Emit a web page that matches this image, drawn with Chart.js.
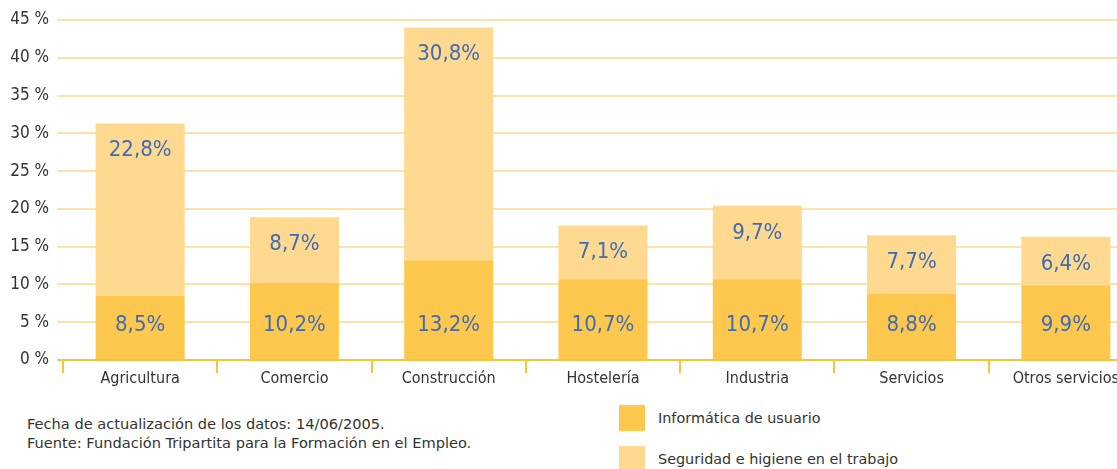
<!DOCTYPE html>
<html>
<head>
<meta charset="utf-8">
<script src="https://cdn.jsdelivr.net/npm/chart.js@4/dist/chart.umd.min.js"></script>
<style>
  html, body { margin: 0; padding: 0; background: #fff; overflow: hidden; }
  body { width: 1117px; height: 469px; position: relative; }
  #wrap { position: absolute; left: 0; top: 0; width: 1143px; height: 400px; }
  .note { position: absolute; left: 27px; top: 414px; font: 14.6px "DejaVu Sans", sans-serif; color: #333; line-height: 19px; }
  .leg { position: absolute; left: 619px; font: 14.4px "DejaVu Sans", sans-serif; color: #333; display: flex; align-items: center; }
  .leg span.box { width: 26px; height: 26px; display: inline-block; margin-right: 13px; }
</style>
</head>
<body>
<div id="wrap"><canvas id="grafico" width="1143" height="400"></canvas></div>
<div class="note">Fecha de actualización de los datos: 14/06/2005.<br>Fuente: Fundación Tripartita para la Formación en el Empleo.</div>
<div id="leyenda"></div>
<script>
const categorias = ['Agricultura', 'Comercio', 'Construcción', 'Hostelería', 'Industria', 'Servicios', 'Otros servicios'];
const informatica = [8.5, 10.2, 13.2, 10.7, 10.7, 8.8, 9.9];
const seguridad = [22.8, 8.7, 30.8, 7.1, 9.7, 7.7, 6.4];
const nombres = ['Informática de usuario', 'Seguridad e higiene en el trabajo'];
const colores = ['#FEC84E', '#FED98F'];

const fmt = v => v.toFixed(1).replace('.', ',') + '%';

// etiquetas dentro de las barras
const etiquetas = {
  id: 'etiquetas',
  afterDatasetsDraw(chart) {
    const ctx = chart.ctx;
    ctx.save();
    ctx.fillStyle = '#3F6CB2';
    ctx.font = '22px "DejaVu Sans Condensed", sans-serif';
    ctx.textAlign = 'center';
    ctx.textBaseline = 'middle';
    chart.data.datasets.forEach((ds, i) => {
      chart.getDatasetMeta(i).data.forEach((bar, j) => {
        const y = i === 0 ? bar.base - 34 : bar.y + 27;
        ctx.fillText(fmt(ds.data[j]), bar.x, y);
      });
    });
    ctx.restore();
  }
};

const chart = new Chart(document.getElementById('grafico'), {
  type: 'bar',
  data: {
    labels: categorias,
    datasets: [
      { label: nombres[0], data: informatica, backgroundColor: colores[0] },
      { label: nombres[1], data: seguridad, backgroundColor: colores[1] }
    ]
  },
  options: {
    responsive: false,
    animation: false,
    devicePixelRatio: 1,
    layout: { padding: { top: 20, left: 0, right: 0, bottom: 0 } },
    datasets: { bar: { barPercentage: 0.577, categoryPercentage: 1 } },
    plugins: { legend: { display: false }, tooltip: { enabled: false } },
    scales: {
      x: {
        stacked: true,
        afterFit: s => { s.height = 40; },
        grid: { drawOnChartArea: false, drawTicks: true, tickLength: 13, color: '#FAC43A', lineWidth: 2, offset: true },
        border: { display: true, color: '#FAC43A', width: 2 },
        ticks: { color: '#333', font: { family: '"DejaVu Sans Condensed", sans-serif', size: 16 }, padding: -4 }
      },
      y: {
        stacked: true,
        min: 0, max: 45,
        afterFit: s => { s.width = 63; },
        grid: {
          color: c => c.tick.value === 0 ? '#FAC43A' : '#FFE3A2',
          lineWidth: 2, tickLength: 6
        },
        border: { display: false },
        ticks: { stepSize: 5, color: '#333', padding: 8, font: { family: '"DejaVu Sans Condensed", sans-serif', size: 17 }, callback: v => v + ' %' }
      }
    }
  },
  plugins: [etiquetas]
});

// leyenda
const ley = document.getElementById('leyenda');
nombres.forEach((n, i) => {
  const d = document.createElement('div');
  d.className = 'leg';
  d.style.top = (405 + i * 41) + 'px';
  d.innerHTML = '<span class="box" style="background:' + colores[i] + '"></span>' + n;
  ley.appendChild(d);
});
</script>
</body>
</html>
